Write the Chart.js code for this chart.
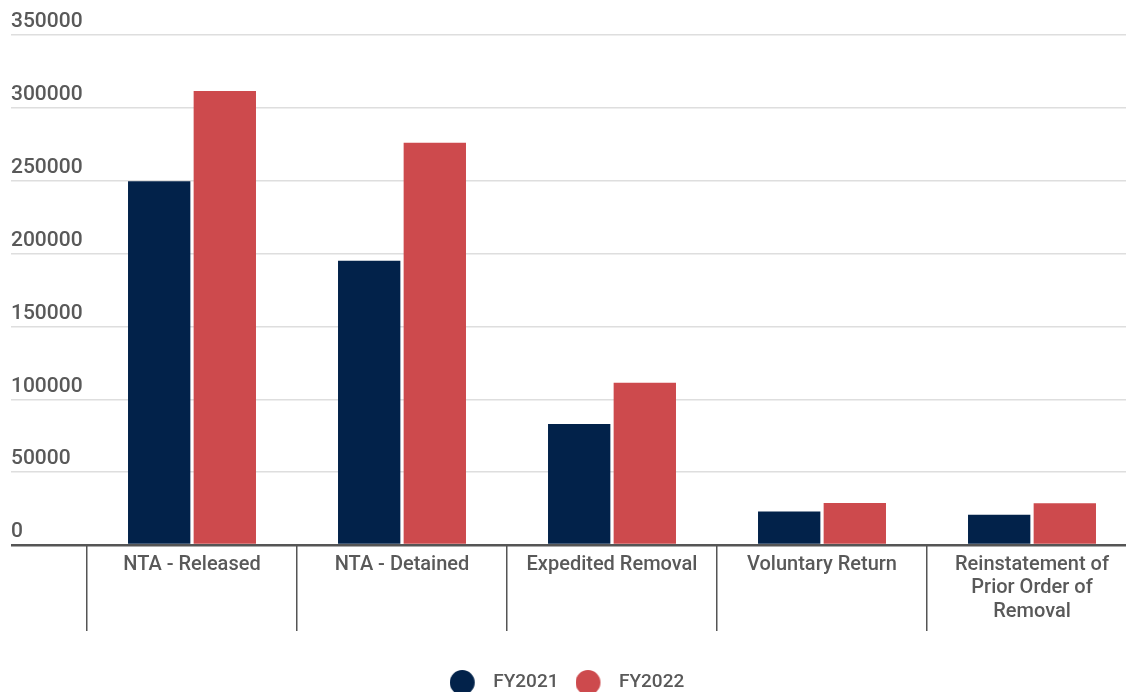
<!DOCTYPE html>
<html>
<head>
<meta charset="utf-8">
<title>Enforcement actions FY2021 vs FY2022</title>
<script src="https://cdn.jsdelivr.net/npm/chart.js@4.4.1/dist/chart.umd.min.js"></script>
<style>
  html, body { margin: 0; padding: 0; background: #fff; overflow: hidden; }
  .wrap { width: 1140px; height: 702px; position: relative; }
</style>
</head>
<body>
<div class="wrap"><canvas id="actions"></canvas></div>
<script>
// categories and yearly counts
const categories = [
  'NTA - Released',
  'NTA - Detained',
  'Expedited Removal',
  'Voluntary Return',
  ['Reinstatement of', 'Prior Order of', 'Removal']
];
const fy2021 = [249600, 195000, 83000, 23000, 20800];
const fy2022 = [311500, 276000, 111300, 28900, 28600];
const yTicks = [0, 50000, 100000, 150000, 200000, 250000, 300000, 350000];

const NAVY = '#02224a';
const RED = '#cd4a4d';
const TEXT = '#595959';

// legend marker: a dot on the left of a wider box, so the label sits further away
const DOT = 25, MARK_W = 34;
function legendDot(color) {
  const c = document.createElement('canvas');
  c.width = MARK_W; c.height = DOT;
  const g = c.getContext('2d');
  g.fillStyle = color;
  g.beginPath();
  g.arc(DOT / 2, DOT / 2, DOT / 2, 0, Math.PI * 2);
  g.fill();
  return c;
}

// the canvas is a bit wider than the page, so pull the legend back to the visible centre
const legendNudge = {
  id: 'legendNudge',
  afterLayout(chart) {
    if (!chart.legend) return;
    chart.legend.left -= 7;
    chart.legend.right -= 7;
  }
};

Chart.defaults.font.family = 'Roboto, "Noto Sans", sans-serif';
Chart.defaults.font.size = 20;
Chart.defaults.font.weight = 500;
Chart.defaults.color = TEXT;

new Chart(document.getElementById('actions').getContext('2d'), {
  type: 'bar',
  data: {
    labels: categories,
    datasets: [
      { label: 'FY2021', data: fy2021, backgroundColor: NAVY, barPercentage: 0.95, categoryPercentage: 0.625 },
      { label: 'FY2022', data: fy2022, backgroundColor: RED, barPercentage: 0.95, categoryPercentage: 0.625 }
    ]
  },
  plugins: [legendNudge],
  options: {
    responsive: true,
    maintainAspectRatio: false,
    animation: false,
    layout: { padding: { left: 11, top: 35, right: 3, bottom: 0 } },
    plugins: {
      tooltip: { enabled: false },
      legend: {
        position: 'bottom',
        labels: {
          usePointStyle: true,
          boxHeight: 17,
          pointStyleWidth: MARK_W,
          padding: 17,
          font: { size: 19, weight: 500 },
          color: TEXT,
          generateLabels: chart => {
            const items = Chart.defaults.plugins.legend.labels.generateLabels(chart);
            items.forEach(it => { it.pointStyle = legendDot(chart.data.datasets[it.datasetIndex].backgroundColor); });
            return items;
          }
        }
      }
    },
    scales: {
      x: {
        afterFit: s => { s.height = 111; },
        grid: {
          offset: true,
          drawOnChartArea: false,
          drawTicks: true,
          tickLength: 86,
          color: '#555',
          lineWidth: 1.5
        },
        border: { display: false },
        ticks: { padding: -78, autoSkip: false, maxRotation: 0, color: TEXT, font: { size: 20, weight: 500, lineHeight: 1.18 } }
      },
      y: {
        min: 0,
        max: 350000,
        afterFit: s => { s.width = 76; },
        afterBuildTicks: s => { s.ticks = yTicks.map(v => ({ value: v })); },
        grid: {
          color: c => (c.tick && c.tick.value === 0) ? '#555' : '#dedede',
          lineWidth: c => (c.tick && c.tick.value === 0) ? 2.5 : 1.5,
          tickLength: 76
        },
        border: { display: false },
        ticks: {
          crossAlign: 'far',
          labelOffset: -13,
          color: TEXT,
          font: { size: 21, weight: 500 },
          callback: v => String(v)
        }
      }
    }
  }
});
</script>
</body>
</html>
